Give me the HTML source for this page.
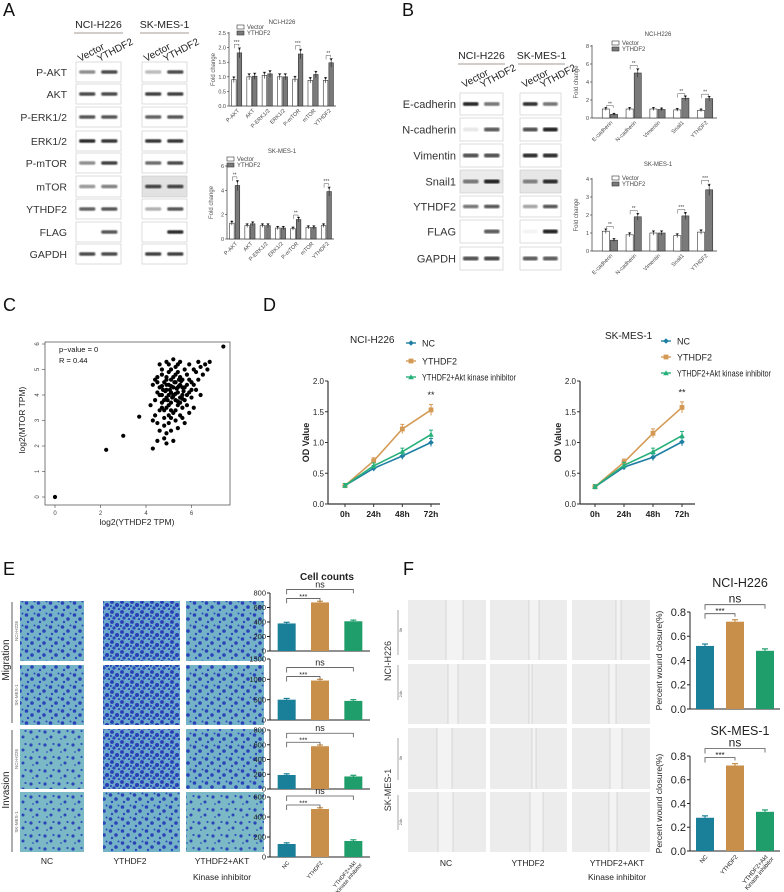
<!DOCTYPE html>
<html><head><meta charset="utf-8">
<style>
html,body{margin:0;padding:0;background:#fff;}
svg{display:block;font-family:"Liberation Sans",sans-serif;}
</style></head>
<body>
<svg id="fig" width="784" height="892" viewBox="0 0 784 892" xmlns="http://www.w3.org/2000/svg">
<defs>
  <filter id="blur"><feGaussianBlur stdDeviation="0.7"/></filter>
  <pattern id="cellsSparse" width="14" height="13" patternUnits="userSpaceOnUse">
    <rect width="14" height="13" fill="#7bb9c6"/>
    <circle cx="3" cy="4" r="1.6" fill="#2c45b8"/>
    <circle cx="9" cy="9" r="1.5" fill="#2c45b8"/>
    <circle cx="11.5" cy="3" r="1.1" fill="#3050c0"/>
    <circle cx="5" cy="11" r="0.9" fill="#3050c0"/>
  </pattern>
  <pattern id="cellsDense" width="10" height="10" patternUnits="userSpaceOnUse">
    <rect width="10" height="10" fill="#6aa8cc"/>
    <circle cx="2" cy="2" r="1.9" fill="#2a3db6"/>
    <circle cx="7" cy="5" r="2" fill="#2a3db6"/>
    <circle cx="4" cy="8" r="1.6" fill="#2e46bb"/>
    <circle cx="9" cy="9.2" r="1.2" fill="#2e46bb"/>
    <circle cx="0.8" cy="6" r="1.1" fill="#2e46bb"/>
  </pattern>
  <pattern id="cellsMid" width="12" height="12" patternUnits="userSpaceOnUse">
    <rect width="12" height="12" fill="#74b2c8"/>
    <circle cx="2.5" cy="3" r="1.8" fill="#2b42b8"/>
    <circle cx="8" cy="7" r="1.8" fill="#2b42b8"/>
    <circle cx="4" cy="10" r="1.2" fill="#2e48bc"/>
    <circle cx="10.5" cy="1.5" r="1" fill="#2e48bc"/>
  </pattern>
</defs>
</svg>
<script>
// ---------------- DATA ----------------
const aCats = ['P-AKT','AKT','P-ERK1/2','ERK1/2','P-mTOR','mTOR','YTHDF2'];
const aH226Vector = [0.9,1.0,1.05,1.0,0.92,0.88,0.88];
const aH226YTHDF2 = [1.82,1.02,1.1,1.0,1.78,1.08,1.48];
const aH226Ticks = [0,0.5,1.0,1.5,2.0,2.5];
const aH226Sig = ['***','','','','***','','**'];
const aMesVector = [1.3,1.1,1.1,0.9,0.85,0.95,1.1];
const aMesYTHDF2 = [4.4,1.25,1.1,0.9,1.6,0.95,3.9];
const aMesTicks = [0,2,4,6];
const aMesSig = ['**','','','','**','','***'];
const bCats = ['E-cadherin','N-cadherin','Vimentin','Snail1','YTHDF2'];
const bH226Vector = [1.0,1.0,1.0,0.9,0.85];
const bH226YTHDF2 = [0.4,5.0,0.95,2.2,2.15];
const bH226Ticks = [0,2,4,6,8];
const bH226Sig = ['**','**','','**','**'];
const bMesVector = [1.1,0.9,1.0,0.85,1.05];
const bMesYTHDF2 = [0.6,1.9,1.0,1.95,3.4];
const bMesTicks = [0,1,2,3,4];
const bMesSig = ['**','**','','***','***'];
const scatterX = [5.0,5.2,5.4,4.8,5.6,5.1,4.9,5.3,5.5,4.7,5.7,5.0,4.6,5.8,5.2,4.8,5.4,5.9,4.5,5.3,
 5.1,4.9,5.6,4.7,5.5,5.0,6.0,4.6,5.2,5.4,4.8,5.1,5.3,4.9,5.6,6.2,6.4,6.6,6.8,6.1,
 5.9,5.5,5.2,5.0,4.7,4.5,4.4,4.3,4.4,4.5,5.7,5.8,6.0,6.2,6.3,6.1,5.9,5.7,5.4,5.0,
 4.6,4.8,5.2,4.9,5.1,5.3,5.5,5.7,4.7,4.5,5.6,5.3,5.1,4.9,4.7,5.8,6.0,5.4,5.2,5.0,
 4.8,5.5,5.3,5.1,4.9,5.6,5.8,4.6,4.4,4.3,6.5,6.3,6.7,5.9,6.1,5.4,4.6,4.9,5.1,5.5,
 4.3,4.5,4.9,3.7,3.0,2.25,0,7.4,4.2,6.4,
 5.05,5.25,5.45,4.85,5.15,4.95,5.35,4.75,5.65,5.55,5.0,5.2,5.4,4.8,5.1,5.3,4.9,5.6,4.7,5.45];
const scatterY = [4.0,4.3,4.1,4.5,4.6,3.7,3.5,4.8,3.9,4.0,4.3,4.9,4.3,4.8,3.3,3.1,3.6,4.1,4.7,5.1,
 4.6,4.2,3.5,3.7,4.4,3.2,4.5,3.4,4.0,4.9,2.8,2.6,3.0,2.5,3.1,4.9,5.1,5.2,5.3,5.0,
 5.2,5.3,5.4,5.2,5.0,4.1,3.8,4.4,3.2,2.9,3.8,3.6,3.9,4.2,4.6,3.5,3.3,2.9,2.7,2.9,
 2.6,2.3,2.2,4.7,5.0,4.5,4.7,5.0,4.8,4.5,4.0,3.8,3.4,3.9,3.5,4.4,4.2,4.3,4.7,4.4,
 3.8,3.7,3.4,4.1,4.4,4.3,4.0,4.0,4.6,3.0,4.8,5.3,5.0,4.6,4.4,5.2,5.2,5.3,3.1,3.2,
 1.9,2.2,2.1,3.15,2.4,1.85,0,5.9,3.6,4.0,
 4.2,4.5,4.35,4.15,3.9,3.8,4.25,4.2,4.15,4.55,3.6,3.95,3.75,3.4,4.35,4.05,4.6,3.85,4.35,4.6];
const scatterTicks = [0,2,4,6];
const scatterYTicks = [0,1,2,3,4,5,6];
const dTimes = ['0h','24h','48h','72h'];
const dTicks = [0,0.5,1.0,1.5,2.0];
const dH226NC = [0.30,0.58,0.78,1.00];
const dH226YTHDF2 = [0.30,0.70,1.22,1.53];
const dH226Inhib = [0.30,0.62,0.85,1.13];
const dMesNC = [0.28,0.60,0.76,1.01];
const dMesYTHDF2 = [0.28,0.68,1.15,1.57];
const dMesInhib = [0.28,0.63,0.85,1.11];
const eGroups = ['NC','YTHDF2','YTHDF2+Akt Kinase inhibitor'];
const eMigH226 = [380,670,410];
const eMigMes = [500,970,470];
const eInvH226 = [190,580,170];
const eInvMes = [130,480,160];
const eTicks800 = [0,200,400,600,800];
const eTicks1500 = [0,500,1000,1500];
const eTicks600 = [0,200,400,600];
const fH226 = [0.52,0.72,0.48];
const fMes = [0.28,0.72,0.33];
const fTicks = [0,0.2,0.4,0.6,0.8];

// ---------------- HELPERS ----------------
const NS = 'http://www.w3.org/2000/svg';
const svg = document.getElementById('fig');
function mk(tag, attrs, parent, name) {
  const e = document.createElementNS(NS, tag);
  for (const k in attrs) e.setAttribute(k, attrs[k]);
  
  
  (parent || svg).appendChild(e);
  return e;
}
function txt(s, x, y, size, attrs, parent, name) {
  const t = mk('text', Object.assign({x: x, y: y, 'font-size': size, fill: '#222'}, attrs || {}), parent, name);
  t.textContent = s;
  return t;
}
function line(x1, y1, x2, y2, stroke, w, parent, name) {
  return mk('line', {x1: x1, y1: y1, x2: x2, y2: y2, stroke: stroke, 'stroke-width': w}, parent, name);
}

// panel letters
[['A',3,16],['B',402,16],['C',3,311],['D',263,311],['E',3,575],['F',403,575]].forEach(p => {
  txt(p[0], p[1], p[2], 18, {fill: '#111'}, svg, 'panel-label-' + p[0].toLowerCase());
});

// ---------------- BLOTS ----------------
function blotBox(x, y, w, h, b1, b2, bg, parent, name) {
  mk('rect', {x: x, y: y, width: w, height: h, fill: bg, stroke: '#c8c8c8', 'stroke-width': 0.6}, parent, name);
  const bw = w * 0.36, bh = Math.max(3.2, h * 0.17);
  if (b1 > 0) mk('rect', {x: x + w * 0.07, y: y + h / 2 - bh / 2, width: bw, height: bh, rx: 1.5, fill: '#000', opacity: b1 * 0.9, filter: 'url(#blur)'}, parent, name + '-band-1');
  if (b2 > 0) mk('rect', {x: x + w * 0.56, y: y + h / 2 - bh / 2, width: bw, height: bh, rx: 1.5, fill: '#000', opacity: b2 * 0.9, filter: 'url(#blur)'}, parent, name + '-band-2');
}
function blotPanel(o) {
  const g = mk('g', {}, svg, o.name);
  o.headers.forEach((hd, i) => {
    const cx = o.cols[i] + o.w / 2;
    txt(hd, cx, o.headY, 10.5, {'text-anchor': 'middle'}, g, 'cell-line-header');
    line(o.cols[i] - 2, o.headY + 5, o.cols[i] + o.w + 2, o.headY + 5, '#8a7a70', 0.8, g, 'header-underline');
    txt('Vector', o.cols[i] + 4, o.labY, 10, {transform: 'rotate(-28 ' + (o.cols[i] + 4) + ' ' + o.labY + ')'}, g, 'lane-label-vector');
    txt('YTHDF2', o.cols[i] + o.w * 0.52, o.labY, 10, {transform: 'rotate(-28 ' + (o.cols[i] + o.w * 0.52) + ' ' + o.labY + ')'}, g, 'lane-label-ythdf2');
  });
  o.rows.forEach((r, i) => {
    txt(r[0], o.labX, r[1] + r[2] / 2 + 4, o.fs, {'text-anchor': 'end', fill: '#333'}, g, 'protein-label');
    blotBox(o.cols[0], r[1], o.w, r[2], r[3], r[4], r[7] || '#fff', g, 'blot-h226-' + i);
    blotBox(o.cols[1], r[1], o.w2 || o.w, r[2], r[5], r[6], r[8] || '#fff', g, 'blot-mes-' + i);
  });
}
blotPanel({name: 'blot-panel-a', cols: [76, 142], w: 45, headers: ['NCI-H226', 'SK-MES-1'], headY: 28, labY: 62, labX: 67, fs: 10.5,
  rows: [['P-AKT',62,20,.5,.8,.3,.8],['AKT',84,20,.8,.8,.85,.85],['P-ERK1/2',107,20,.75,.75,.7,.75],['ERK1/2',131,20,.95,.9,.9,.9],
         ['P-mTOR',153,20,.5,.85,.65,.8],['mTOR',176,21,.45,.55,.8,.8,'#fff','#e2e2e2'],['YTHDF2',199,20,.7,.75,.35,.75],
         ['FLAG',222,20,0,.75,0,.95],['GAPDH',244,20,.8,.8,.85,.85]]});
blotPanel({name: 'blot-panel-b', cols: [460, 520], w: 43, w2: 41, headers: ['NCI-H226', 'SK-MES-1'], headY: 59, labY: 88, labX: 456, fs: 11,
  rows: [['E-cadherin',93,22,.95,.6,.9,.6],['N-cadherin',118,23,.1,.7,.75,.95],['Vimentin',144,23,.75,.75,.9,.9],
         ['Snail1',170,23,.55,.95,.5,.9,'#ebebeb','#e6e6e6'],['YTHDF2',196,21,.6,.75,.4,.75],['FLAG',220,23,0,.7,.05,.95],['GAPDH',247,23,.75,.8,.7,.7]]});

// ---------------- GROUPED BAR CHARTS (A,B) ----------------
function groupedChart(o) {
  const g = mk('g', {}, svg, o.name);
  const ys = v => o.yBot - (v / o.max) * (o.yBot - o.yTop);
  const n = o.cats.length, step = (o.x1 - o.x0 - o.pad) / n, bw = step * 0.3;
  line(o.x0, o.yTop - 1, o.x0, o.yBot, '#333', 0.7, g, 'y-axis');
  line(o.x0, o.yBot, o.x1, o.yBot, '#333', 0.7, g, 'x-axis');
  o.ticks.forEach(t => {
    line(o.x0 - 2, ys(t), o.x0, ys(t), '#333', 0.6, g, 'y-tick');
    txt(o.tickFmt(t), o.x0 - 3, ys(t) + 2, 5.5, {'text-anchor': 'end', fill: '#444'}, g, 'y-tick-label');
  });
  txt('Fold change', 0, 0, 6, {'text-anchor': 'middle', fill: '#555', transform: 'translate(' + (o.x0 - 14) + ',' + ((o.yTop + o.yBot) / 2) + ') rotate(-90)'}, g, 'y-axis-title');
  txt(o.title, o.titleX, o.titleY, 6, {'text-anchor': 'middle', fill: '#444'}, g, 'chart-title');
  mk('rect', {x: o.legX, y: o.legY - 4, width: 7, height: 4, fill: '#fff', stroke: '#333', 'stroke-width': 0.6}, g, 'legend-vector-swatch');
  txt('Vector', o.legX + 10, o.legY, 6, {fill: '#444'}, g, 'legend-vector');
  mk('rect', {x: o.legX, y: o.legY + 2, width: 7, height: 4, fill: '#7a7a7a', stroke: '#333', 'stroke-width': 0.6}, g, 'legend-ythdf2-swatch');
  txt('YTHDF2', o.legX + 10, o.legY + 6, 6, {fill: '#444'}, g, 'legend-ythdf2');
  o.cats.forEach((c, i) => {
    const cx = o.x0 + o.pad + step * (i + 0.5);
    const v1 = o.v1[i], v2 = o.v2[i];
    mk('rect', {x: cx - bw - 0.5, y: ys(v1), width: bw, height: o.yBot - ys(v1), fill: '#fff', stroke: '#333', 'stroke-width': 0.6}, g, 'bar-vector');
    mk('rect', {x: cx + 0.5, y: ys(v2), width: bw, height: o.yBot - ys(v2), fill: '#7a7a7a', stroke: '#333', 'stroke-width': 0.6}, g, 'bar-ythdf2');
    [[cx - bw / 2 - 0.5, v1], [cx + bw / 2 + 0.5, v2]].forEach(p => {
      const e = p[1] * 0.08 + o.max * 0.01;
      line(p[0], ys(p[1] + e), p[0], ys(p[1] - e), '#222', 0.6, g, 'error-bar');
      line(p[0] - 1.5, ys(p[1] + e), p[0] + 1.5, ys(p[1] + e), '#222', 0.6, g, 'error-cap');
      mk('circle', {cx: p[0], cy: ys(p[1] + e * 0.8), r: 0.9, fill: '#111'}, g, 'data-point');
    });
    if (o.sig[i]) {
      const top = ys(Math.max(v1, v2) * 1.12 + o.max * 0.03);
      mk('path', {d: 'M' + (cx - bw / 2) + ' ' + (top + 4) + 'V' + top + 'H' + (cx + bw / 2) + 'V' + (top + 2), fill: 'none', stroke: '#555', 'stroke-width': 0.5}, g, 'significance-bracket');
      txt(o.sig[i], cx, top - 0.5, 5, {'text-anchor': 'middle', fill: '#444'}, g, 'significance-label');
    }
    txt(c, cx + 3, o.yBot + 5, 5.5, {'text-anchor': 'end', fill: '#444', transform: 'rotate(-45 ' + (cx + 3) + ' ' + (o.yBot + 5) + ')'}, g, 'category-label');
  });
}
const f1 = t => t.toFixed(1), f0 = t => String(t);
groupedChart({name: 'chart-a-h226', x0: 229, x1: 336, pad: 0, yTop: 33, yBot: 106, max: 2.5, ticks: aH226Ticks, tickFmt: f1, cats: aCats, v1: aH226Vector, v2: aH226YTHDF2, sig: aH226Sig, title: 'NCI-H226', titleX: 282, titleY: 24, legX: 237, legY: 29});
groupedChart({name: 'chart-a-mes', x0: 227, x1: 334, pad: 0, yTop: 166, yBot: 239, max: 6, ticks: aMesTicks, tickFmt: f0, cats: aCats, v1: aMesVector, v2: aMesYTHDF2, sig: aMesSig, title: 'SK-MES-1', titleX: 282, titleY: 153, legX: 227, legY: 161});
groupedChart({name: 'chart-b-h226', x0: 592, x1: 717, pad: 6, yTop: 46, yBot: 118, max: 8, ticks: bH226Ticks, tickFmt: f0, cats: bCats, v1: bH226Vector, v2: bH226YTHDF2, sig: bH226Sig, title: 'NCI-H226', titleX: 658, titleY: 36, legX: 612, legY: 45});
groupedChart({name: 'chart-b-mes', x0: 592, x1: 717, pad: 6, yTop: 179, yBot: 251, max: 4, ticks: bMesTicks, tickFmt: f0, cats: bCats, v1: bMesVector, v2: bMesYTHDF2, sig: bMesSig, title: 'SK-MES-1', titleX: 658, titleY: 166, legX: 612, legY: 180});

// ---------------- SCATTER (C) ----------------
(function () {
  const g = mk('g', {}, svg, 'scatter-c');
  const x0 = 45, x1 = 230, yT = 342, yB = 505;
  const sx = v => 55 + v * 22.75, sy = v => 497 - v * 25.5;
  mk('rect', {x: x0, y: yT, width: x1 - x0, height: yB - yT, fill: 'none', stroke: '#444', 'stroke-width': 0.7}, g, 'plot-frame');
  scatterTicks.forEach(t => {
    line(sx(t), yB, sx(t), yB + 3, '#444', 0.6, g, 'x-tick');
    txt(String(t), sx(t), yB + 10, 6, {'text-anchor': 'middle', fill: '#444'}, g, 'x-tick-label');
  });
  scatterYTicks.forEach(t => {
    line(x0 - 3, sy(t), x0, sy(t), '#444', 0.6, g, 'y-tick');
    txt(String(t), 0, 0, 6, {'text-anchor': 'middle', fill: '#444', transform: 'translate(' + (x0 - 6) + ',' + sy(t) + ') rotate(-90)'}, g, 'y-tick-label');
  });
  scatterX.forEach((v, i) => {
    mk('circle', {cx: sx(v), cy: sy(scatterY[i]), r: 2.1, fill: '#000'}, g, 'scatter-point');
  });
  txt('p\u2212value = 0', 59, 352, 7.5, {fill: '#111'}, g, 'p-value-label');
  txt('R = 0.44', 59, 363, 7.5, {fill: '#111'}, g, 'r-value-label');
  txt('log2(YTHDF2 TPM)', 137, 525, 8.5, {'text-anchor': 'middle', fill: '#222'}, g, 'x-axis-title');
  txt('log2(MTOR TPM)', 0, 0, 8.5, {'text-anchor': 'middle', fill: '#222', transform: 'translate(25,420) rotate(-90)'}, g, 'y-axis-title');
})();

// ---------------- LINE CHARTS (D) ----------------
const dColors = ['#1f7fa3', '#d49a55', '#27b07a'];
const dNames = ['NC', 'YTHDF2', 'YTHDF2+Akt kinase inhibitor'];
function marker(kind, x, y, c, g) {
  if (kind === 0) mk('path', {d: 'M' + (x - 2.8) + ' ' + y + 'L' + x + ' ' + (y - 2.8) + 'L' + (x + 2.8) + ' ' + y + 'L' + x + ' ' + (y + 2.8) + 'Z', fill: c}, g, 'marker-nc');
  else if (kind === 1) mk('rect', {x: x - 2.4, y: y - 2.4, width: 4.8, height: 4.8, fill: c}, g, 'marker-ythdf2');
  else mk('path', {d: 'M' + (x - 2.8) + ' ' + (y + 2.2) + 'L' + x + ' ' + (y - 2.8) + 'L' + (x + 2.8) + ' ' + (y + 2.2) + 'Z', fill: c}, g, 'marker-inhibitor');
}
function lineChart(o) {
  const g = mk('g', {}, svg, o.name);
  const ys = v => o.yBot - v / 2.0 * (o.yBot - o.yTop);
  const xs = i => o.xFirst + i * (o.xLast - o.xFirst) / (dTimes.length - 1);
  line(o.x0, o.yTop, o.x0, o.yBot, '#333', 1.2, g, 'y-axis');
  line(o.x0, o.yBot, o.x1, o.yBot, '#333', 1.2, g, 'x-axis');
  dTicks.forEach(t => {
    line(o.x0 - 3, ys(t), o.x0, ys(t), '#333', 1, g, 'y-tick');
    txt(t.toFixed(1), o.x0 - 4, ys(t) + 3, 8, {'text-anchor': 'end', fill: '#222'}, g, 'y-tick-label');
  });
  dTimes.forEach((t, i) => {
    line(xs(i), o.yBot, xs(i), o.yBot + 3, '#333', 1, g, 'x-tick');
    txt(t, xs(i), o.yBot + 13, 8.5, {'text-anchor': 'middle', fill: '#222', 'font-weight': 'bold'}, g, 'x-tick-label');
  });
  txt('OD Value', 0, 0, 9, {'text-anchor': 'middle', 'font-weight': 'bold', fill: '#222', transform: 'translate(' + (o.x0 - 19) + ',' + ((o.yTop + o.yBot) / 2) + ') rotate(-90)'}, g, 'y-axis-title');
  txt(o.title, o.titleX, o.titleY, 10, {fill: '#222'}, g, 'chart-title');
  o.series.forEach((s, k) => {
    const pts = s.map((v, i) => xs(i) + ',' + ys(v)).join(' ');
    mk('polyline', {points: pts, fill: 'none', stroke: dColors[k], 'stroke-width': 1.6}, g, 'line-' + dNames[k].toLowerCase().replace(/[^a-z0-9]+/g, '-'));
    s.forEach((v, i) => {
      const e = 0.02 + v * 0.045;
      line(xs(i), ys(v + e), xs(i), ys(v - e), dColors[k], 1, g, 'error-bar');
      line(xs(i) - 2, ys(v + e), xs(i) + 2, ys(v + e), dColors[k], 1, g, 'error-cap');
      marker(k, xs(i), ys(v), dColors[k], g);
    });
    const ly = o.legY[k];
    line(o.legX - 5, ly, o.legX + 5, ly, dColors[k], 1.4, g, 'legend-line');
    marker(k, o.legX, ly, dColors[k], g);
    const lt = txt(dNames[k], o.legX + 11, ly + 3.5, 9, {fill: '#222'}, g, 'legend-entry');
    if (k === 2) { lt.setAttribute('textLength', '94'); lt.setAttribute('lengthAdjust', 'spacingAndGlyphs'); }
  });
  const last = dTimes.length - 1;
  txt('**', xs(last), ys(Math.max(...o.series.map(s => s[last]))) - 12, 9, {'text-anchor': 'middle', fill: '#222'}, g, 'significance-label');
}
lineChart({name: 'chart-d-h226', x0: 328, x1: 440, yTop: 381, yBot: 504, xFirst: 345, xLast: 431, series: [dH226NC, dH226YTHDF2, dH226Inhib], title: 'NCI-H226', titleX: 350, titleY: 343, legX: 411, legY: [343, 361, 377]});
lineChart({name: 'chart-d-mes', x0: 580, x1: 695, yTop: 381, yBot: 504, xFirst: 595, xLast: 682, series: [dMesNC, dMesYTHDF2, dMesInhib], title: 'SK-MES-1', titleX: 605, titleY: 339, legX: 666, legY: [341, 357, 373]});

// ---------------- IMAGES (E, F) ----------------
(function () {
  const g = mk('g', {}, svg, 'transwell-images');
  const cols = [[20, 64], [103, 77], [186, 78]];
  const rows = [[601, 60], [665, 60], [729, 60], [792, 60]];
  const fills = [['cellsMid', 'cellsDense', 'cellsMid'], ['cellsMid', 'cellsDense', 'cellsMid'], ['cellsSparse', 'cellsDense', 'cellsMid'], ['cellsSparse', 'cellsMid', 'cellsSparse']];
  rows.forEach((r, ri) => cols.forEach((c, ci) => {
    mk('rect', {x: c[0], y: r[0], width: c[1], height: r[1], fill: 'url(#' + fills[ri][ci] + ')'}, g, 'transwell-image');
  }));
  line(12, 602, 12, 723, '#333', 0.8, g, 'migration-bracket');
  line(12, 730, 12, 852, '#333', 0.8, g, 'invasion-bracket');
  txt('Migration', 0, 0, 10, {'text-anchor': 'middle', transform: 'translate(9,660) rotate(-90)'}, g, 'migration-label');
  txt('Invasion', 0, 0, 10, {'text-anchor': 'middle', transform: 'translate(9,790) rotate(-90)'}, g, 'invasion-label');
  [['NCI-H226', 631], ['SK-MES-1', 695], ['NCI-H226', 759], ['SK-MES-1', 822]].forEach(l => {
    txt(l[0], 0, 0, 4.5, {'text-anchor': 'middle', fill: '#666', transform: 'translate(18,' + l[1] + ') rotate(-90)'}, g, 'row-cell-line-label');
  });
  txt('NC', 47, 864, 8.5, {'text-anchor': 'middle'}, g, 'column-label-nc');
  txt('YTHDF2', 130, 864, 8.5, {'text-anchor': 'middle'}, g, 'column-label-ythdf2');
  txt('YTHDF2+AKT', 222, 864, 8.5, {'text-anchor': 'middle'}, g, 'column-label-inhibitor');
  txt('Kinase inhibitor', 222, 880, 8.5, {'text-anchor': 'middle'}, g, 'column-label-inhibitor-2');

  const wg = mk('g', {}, svg, 'wound-images');
  const wcols = [[408, 78], [490, 77], [572, 78]];
  const wrows = [[600, 60], [664, 60], [728, 61], [792, 60]];
  const gaps = [[[446, 463], [529, 539], [616, 621]], [[448, 458], [529, 532], [609, 616]], [[437, 452], [532, 536], [610, 622]], [[438, 453], [530, 543], [609, 617]]];
  wrows.forEach((r, ri) => wcols.forEach((c, ci) => {
    mk('rect', {x: c[0], y: r[0], width: c[1], height: r[1], fill: '#ececec'}, wg, 'wound-image');
    const gp = gaps[ri][ci];
    mk('rect', {x: gp[0], y: r[0], width: gp[1] - gp[0], height: r[1], fill: '#f3f3f3'}, wg, 'wound-gap');
    line(gp[0], r[0], gp[0], r[0] + r[1], '#b4b4b4', 0.4, wg, 'wound-edge');
    line(gp[1], r[0], gp[1], r[0] + r[1], '#b4b4b4', 0.4, wg, 'wound-edge');
  }));
  txt('NCI-H226', 0, 0, 9, {'text-anchor': 'middle', fill: '#333', transform: 'translate(391,661) rotate(-90)'}, wg, 'row-label-h226');
  txt('SK-MES-1', 0, 0, 9, {'text-anchor': 'middle', fill: '#333', transform: 'translate(391,790) rotate(-90)'}, wg, 'row-label-mes');
  [[630, '0h'], [694, '24h'], [758, '0h'], [822, '24h']].forEach(l => {
    txt(l[1], 0, 0, 4, {'text-anchor': 'middle', fill: '#555', transform: 'translate(402,' + l[0] + ') rotate(-90)'}, wg, 'time-label');
  });
  line(398, 610, 398, 655, '#555', 0.5, wg, 'time-bracket');
  line(398, 665, 398, 700, '#555', 0.5, wg, 'time-bracket');
  line(398, 738, 398, 780, '#555', 0.5, wg, 'time-bracket');
  line(398, 795, 398, 830, '#555', 0.5, wg, 'time-bracket');
  txt('NC', 446, 866, 8.5, {'text-anchor': 'middle'}, wg, 'column-label-nc');
  txt('YTHDF2', 528, 866, 8.5, {'text-anchor': 'middle'}, wg, 'column-label-ythdf2');
  txt('YTHDF2+AKT', 617, 866, 8.5, {'text-anchor': 'middle'}, wg, 'column-label-inhibitor');
  txt('Kinase inhibitor', 617, 880, 8.5, {'text-anchor': 'middle'}, wg, 'column-label-inhibitor-2');
})();

// ---------------- SIMPLE BAR CHARTS (E, F) ----------------
const barColors = ['#1a7f98', '#c78f4a', '#1f9e6b'];
function simpleBar(o) {
  const g = mk('g', {}, svg, o.name);
  const ys = v => o.yBot - v / o.max * (o.yBot - o.yTop);
  const step = (o.x1 - o.x0) / o.vals.length;
  const cx = i => o.x0 + step * (i + 0.5);
  line(o.x0, o.yTop, o.x0, o.yBot, '#222', 1, g, 'y-axis');
  line(o.x0, o.yBot, o.x1, o.yBot, '#222', 1, g, 'x-axis');
  o.ticks.forEach(t => {
    line(o.x0 - 3, ys(t), o.x0, ys(t), '#222', 1, g, 'y-tick');
    txt(o.fmt(t), o.x0 - 4, ys(t) + o.fs * 0.35, o.fs, {'text-anchor': 'end'}, g, 'y-tick-label');
  });
  o.vals.forEach((v, i) => {
    mk('rect', {x: cx(i) - o.bw / 2, y: ys(v), width: o.bw, height: o.yBot - ys(v), fill: barColors[i]}, g, 'bar-' + ['nc', 'ythdf2', 'inhibitor'][i]);
    const e = o.max * 0.02;
    line(cx(i), ys(v), cx(i), ys(v + e), barColors[i], 1.2, g, 'error-bar');
    line(cx(i) - 3, ys(v + e), cx(i) + 3, ys(v + e), barColors[i], 1.2, g, 'error-cap');
  });
  const b1 = Math.min(ys(o.vals[0]), ys(o.vals[1])) - o.gap1;
  mk('path', {d: 'M' + cx(0) + ' ' + (b1 + 5) + 'V' + b1 + 'H' + cx(1) + 'V' + (b1 + 3), fill: 'none', stroke: '#555', 'stroke-width': 0.8}, g, 'bracket-ythdf2');
  txt('***', (cx(0) + cx(1)) / 2, b1 + 0.5, o.sfs, {'text-anchor': 'middle'}, g, 'significance-ythdf2');
  const b2 = b1 - o.gap2;
  mk('path', {d: 'M' + cx(0) + ' ' + (b2 + 5) + 'V' + b2 + 'H' + cx(2) + 'V' + (b2 + 4), fill: 'none', stroke: '#555', 'stroke-width': 0.8}, g, 'bracket-inhibitor');
  txt('ns', (cx(0) + cx(2)) / 2, b2 - 2, o.nfs, {'text-anchor': 'middle'}, g, 'significance-inhibitor');
  if (o.labels) {
    o.labels.forEach((l, i) => {
      const parts = l === 'YTHDF2+Akt Kinase inhibitor' ? ['YTHDF2+Akt', 'Kinase inhibitor'] : [l];
      parts.forEach((p, j) => {
        const x = cx(i) + 3 + j * 6, y = o.yBot + 6 + j * 2;
        txt(p, x, y, o.lfs, {'text-anchor': 'end', transform: 'rotate(-50 ' + x + ' ' + y + ')'}, g, 'category-label');
      });
    });
  }
  if (o.ytitle) txt(o.ytitle, 0, 0, 8.5, {'text-anchor': 'middle', transform: 'translate(' + (o.x0 - 28) + ',' + ((o.yTop + o.yBot) / 2) + ') rotate(-90)'}, g, 'y-axis-title');
  if (o.title) txt(o.title, o.titleX, o.titleY, 12.5, {'text-anchor': 'middle'}, g, 'chart-title');
}
txt('Cell counts', 327, 580, 10, {'text-anchor': 'middle', 'font-weight': 'bold', fill: '#222'}, svg, 'cell-counts-title');
const f0e = t => String(t), f1e = t => t.toFixed(1);
simpleBar({name: 'chart-e-mig-h226', x0: 270, x1: 370, yTop: 593, yBot: 651, max: 800, ticks: eTicks800, fmt: f0e, vals: eMigH226, bw: 18, fs: 7.5, gap1: 4, gap2: 9, sfs: 7, nfs: 9});
simpleBar({name: 'chart-e-mig-mes', x0: 270, x1: 370, yTop: 659, yBot: 720, max: 1500, ticks: eTicks1500, fmt: f0e, vals: eMigMes, bw: 18, fs: 7.5, gap1: 4, gap2: 9, sfs: 7, nfs: 9});
simpleBar({name: 'chart-e-inv-h226', x0: 270, x1: 370, yTop: 730, yBot: 789, max: 800, ticks: eTicks800, fmt: f0e, vals: eInvH226, bw: 18, fs: 7.5, gap1: 4, gap2: 9, sfs: 7, nfs: 9});
simpleBar({name: 'chart-e-inv-mes', x0: 270, x1: 370, yTop: 797, yBot: 857, max: 600, ticks: eTicks600, fmt: f0e, vals: eInvMes, bw: 18, fs: 7.5, gap1: 4, gap2: 9, sfs: 7, nfs: 9, labels: eGroups, lfs: 5.5});
simpleBar({name: 'chart-f-h226', x0: 690, x1: 780, yTop: 612, yBot: 709, max: 0.8, ticks: fTicks, fmt: f1e, vals: fH226, bw: 18, fs: 11, gap1: 8, gap2: 9, sfs: 8, nfs: 12, ytitle: 'Percent wound closure(%)', title: 'NCI-H226', titleX: 740, titleY: 587});
simpleBar({name: 'chart-f-mes', x0: 690, x1: 780, yTop: 756, yBot: 851, max: 0.8, ticks: fTicks, fmt: f1e, vals: fMes, bw: 18, fs: 11, gap1: 8, gap2: 9, sfs: 8, nfs: 12, ytitle: 'Percent wound closure(%)', title: 'SK-MES-1', titleX: 740, titleY: 735, labels: eGroups, lfs: 6});
</script>
</body></html>
